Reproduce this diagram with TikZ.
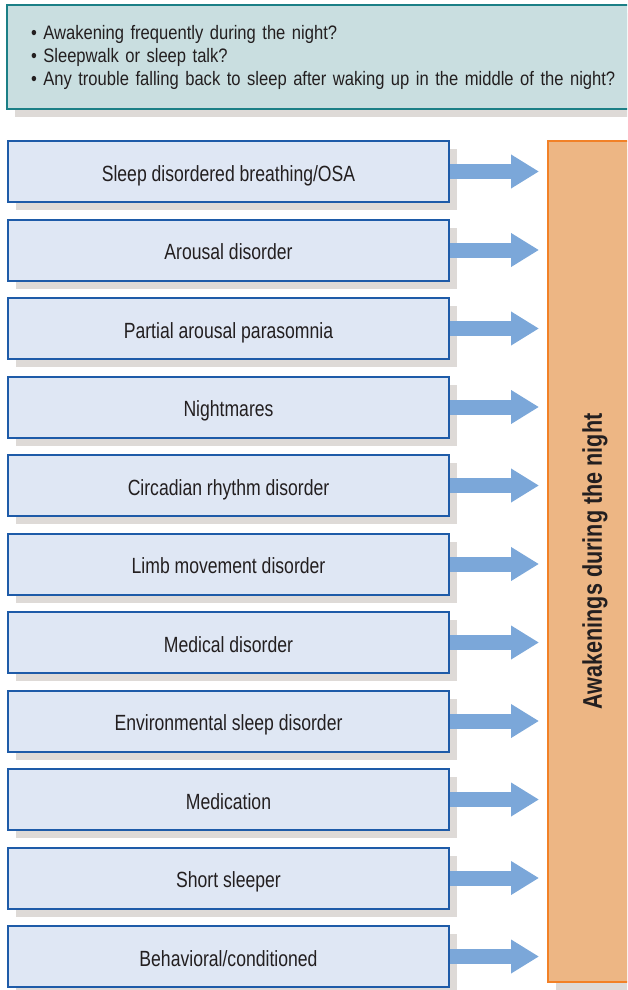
\documentclass[tikz,border=0pt]{standalone}
\usepackage{fontspec}
\setmainfont{Liberation Sans}[FakeStretch=0.8]
\newfontfamily\questfont{Liberation Sans}[FakeStretch=0.85]
\usetikzlibrary{arrows.meta,positioning,shadows}

\definecolor{qfill}{HTML}{C9DEE0}
\definecolor{qline}{HTML}{1B7F86}
\definecolor{boxfill}{HTML}{DFE7F4}
\definecolor{boxline}{HTML}{1E5BA8}
\definecolor{flowblue}{HTML}{7BA7D9}
\definecolor{resfill}{HTML}{EDB684}
\definecolor{resline}{HTML}{F28127}
\definecolor{shade}{HTML}{DEDAD7}
\definecolor{ink}{HTML}{231F20}

\begin{document}
\begin{tikzpicture}[x=1pt, y=-1pt, node distance=15.5pt,
    boxshadow/.style={drop shadow={shadow xshift=8pt, shadow yshift=-8pt, fill=shade, opacity=1}},
    question/.style={draw=qline, fill=qfill, line width=2.5pt, minimum width=648pt, minimum height=104pt,
        text width=600pt, align=left, inner sep=0pt, text=ink, font=\questfont\fontsize{19.5}{23}\selectfont, boxshadow},
    cause/.style={draw=boxline, fill=boxfill, line width=2pt, minimum width=441pt, minimum height=61pt,
        inner sep=0pt, text height=19pt, text depth=0pt, text=ink, font=\fontsize{22}{26}\selectfont, boxshadow},
    result/.style={draw=resline, fill=resfill, line width=2pt, minimum width=94pt, minimum height=841pt,
        inner sep=0pt, text=ink, font=\fontsize{27}{30}\selectfont\bfseries, boxshadow},
    flow/.style={draw=flowblue, line width=15pt, -{Triangle[length=28pt, width=32pt]}, shorten >=8pt}]
    \clip (0,0) rectangle (627,990);

    \node[question] (Q) at (331,57) {• Awakening frequently during the night?\\
        • Sleepwalk or sleep talk?\\
        • Any trouble falling back to sleep after waking up in the middle of the night?};

    \node[cause, anchor=north west] (C1) at (7,140) {Sleep disordered breathing/OSA};
    \node[cause, below=of C1] (C2) {Arousal disorder};
    \node[cause, below=of C2] (C3) {Partial arousal parasomnia};
    \node[cause, below=of C3] (C4) {Nightmares};
    \node[cause, below=of C4] (C5) {Circadian rhythm disorder};
    \node[cause, below=of C5] (C6) {Limb movement disorder};
    \node[cause, below=of C6] (C7) {Medical disorder};
    \node[cause, below=of C7] (C8) {Environmental sleep disorder};
    \node[cause, below=of C8] (C9) {Medication};
    \node[cause, below=of C9] (C10) {Short sleeper};
    \node[cause, below=of C10] (C11) {Behavioral/conditioned};

    \node[result] (R) at (595,561.5) {\rotatebox{90}{Awakenings during the night}};

    \draw[flow] (C1) -- (C1 -| R.west);
    \draw[flow] (C2) -- (C2 -| R.west);
    \draw[flow] (C3) -- (C3 -| R.west);
    \draw[flow] (C4) -- (C4 -| R.west);
    \draw[flow] (C5) -- (C5 -| R.west);
    \draw[flow] (C6) -- (C6 -| R.west);
    \draw[flow] (C7) -- (C7 -| R.west);
    \draw[flow] (C8) -- (C8 -| R.west);
    \draw[flow] (C9) -- (C9 -| R.west);
    \draw[flow] (C10) -- (C10 -| R.west);
    \draw[flow] (C11) -- (C11 -| R.west);
\end{tikzpicture}
\end{document}
